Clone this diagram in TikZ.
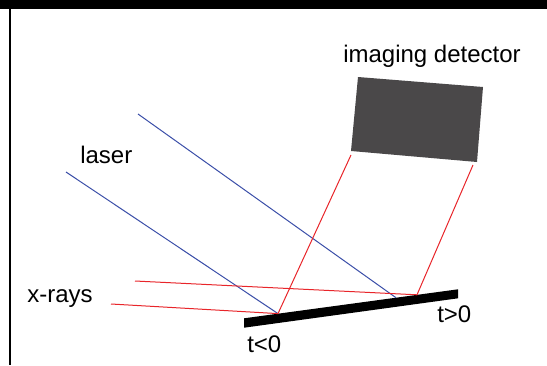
\documentclass[tikz,border=0pt]{standalone}
\usepackage{fontspec}
\setmainfont{Liberation Sans}
\begin{document}
\begin{tikzpicture}[x=0.75pt,y=-0.75pt,
        laserbeam/.style={draw={rgb,255:red,58;green,78;blue,168},line width=0.75pt},
        xraybeam/.style={draw={rgb,255:red,232;green,37;blue,42},line width=0.75pt},
        lbl/.style={inner sep=0pt,anchor=base west,font=\fontsize{18}{20}\selectfont}]
        \useasboundingbox (0,0) rectangle (547,365);
        \fill (0,0) rectangle (547,9);
        \draw[line width=1.5pt] (10,9)--(10,365);
        % sample and reflection points
        \fill (244,318.3)--(458,289.3)--(458,298.3)--(244,327.7)--cycle;
        \coordinate (hitA) at (278,313.6);
        \coordinate (hitB) at (396,297.7);
        \coordinate (hitC) at (417,294.8);
        % imaging detector
        \coordinate (detTL) at (358,77);
        \coordinate (detTR) at (483,87);
        \coordinate (detBR) at (477,162);
        \coordinate (detBL) at (351,151);
        \fill[fill={rgb,255:red,74;green,72;blue,73}] (detTL)--(detTR)--(detBR)--(detBL)--cycle;
        \coordinate (inA) at (66,172);
        \coordinate (inB) at (138,114);
        \coordinate (xA) at (111,304);
        \coordinate (xB) at (135,281);
        \coordinate (outA) at (351,155);
        \coordinate (outB) at (473,165);
        \draw[laserbeam] (inA)--(hitA);
        \draw[laserbeam] (inB)--(hitB);
        \draw[xraybeam] (xA)--(hitA)--(outA);
        \draw[xraybeam] (xB)--(hitC)--(outB);
        \node[lbl] (detlabel) at (343,62) {imaging detector};
        \node[lbl] (laserlabel) at (80,163) {laser};
        \node[lbl] (xraylabel) at (27,302) {x-rays};
        \node[lbl] (tneg) at (247,352) {t<0};
        \node[lbl] (tpos) at (437,322) {t>0};
\end{tikzpicture}
\end{document}
